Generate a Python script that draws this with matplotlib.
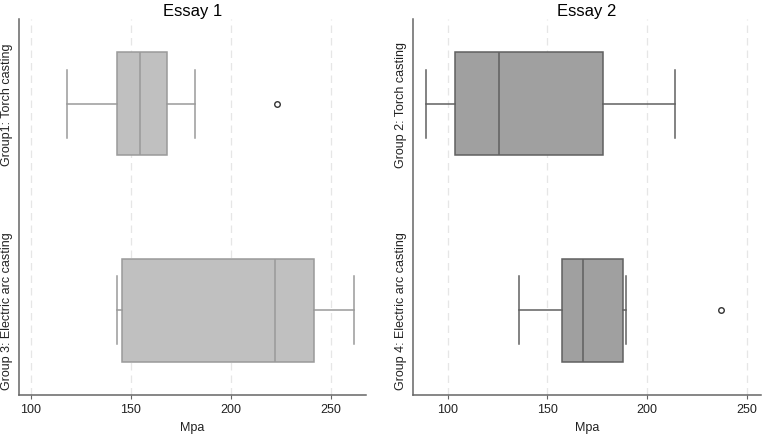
import matplotlib.pyplot as plt

plt.rcParams["font.family"] = ["Liberation Sans", "DejaVu Sans"]

# box statistics (Mpa)
essay1_labels = ["Group1: Torch casting", "Group 3: Electric arc casting"]
essay1_whislo = [118, 143]
essay1_q1 = [143, 145.5]
essay1_med = [154.5, 222]
essay1_q3 = [168, 241.5]
essay1_whishi = [182, 261.5]
essay1_fliers = [[223], []]

essay2_labels = ["Group 2: Torch casting", "Group 4: Electric arc casting"]
essay2_whislo = [89, 136]
essay2_q1 = [103.5, 157.5]
essay2_med = [125.5, 168]
essay2_q3 = [178, 188]
essay2_whishi = [214, 189.5]
essay2_fliers = [[], [237]]


def make_stats(labels, lo, q1, med, q3, hi, fl):
    out = []
    for i in range(len(labels)):
        out.append({"label": labels[i], "whislo": lo[i], "q1": q1[i], "med": med[i],
                    "q3": q3[i], "whishi": hi[i], "fliers": fl[i]})
    return out


fig = plt.figure(figsize=(7.62, 4.35), dpi=100)
ax1 = fig.add_axes([0.025, 0.09, 0.455, 0.864])
ax2 = fig.add_axes([0.5416, 0.09, 0.457, 0.864])

panels = [
    (ax1, "Essay 1", make_stats(essay1_labels, essay1_whislo, essay1_q1, essay1_med,
                                essay1_q3, essay1_whishi, essay1_fliers),
     "#c0c0c0", "#9a9a9a", (94, 267.5)),
    (ax2, "Essay 2", make_stats(essay2_labels, essay2_whislo, essay2_q1, essay2_med,
                                essay2_q3, essay2_whishi, essay2_fliers),
     "#a0a0a0", "#606060", (82.5, 257)),
]

for ax, title, stats, face, edge, xl in panels:
    ax.bxp(stats, positions=[0, 1], widths=0.5, vert=False, patch_artist=True,
           capwidths=0.33,
           boxprops=dict(facecolor=face, edgecolor=edge, linewidth=1.1),
           medianprops=dict(color=edge, linewidth=1.1),
           whiskerprops=dict(color=edge, linewidth=1.1),
           capprops=dict(color=edge, linewidth=1.1),
           flierprops=dict(marker="o", markersize=4, markerfacecolor="white",
                           markeredgecolor="#333333", markeredgewidth=1))
    ax.set_ylim(1.41, -0.41)
    ax.set_xlim(*xl)
    ax.set_xticks([100, 150, 200, 250])
    ax.set_yticks([0, 1])
    ax.set_yticklabels([s["label"] for s in stats], rotation=90, va="center",
                       fontsize=9, color="#222222")
    ax.tick_params(axis="y", length=0, pad=4)
    ax.tick_params(axis="x", length=3, color="#666666", labelsize=9,
                   labelcolor="#222222", pad=3)
    ax.set_xlabel("Mpa", fontsize=9, color="#222222", labelpad=4)
    ax.set_title(title, fontsize=12, pad=3)
    ax.grid(axis="x", linestyle=(0, (6, 4)), color="#e6e6e6", linewidth=0.9)
    ax.set_axisbelow(True)
    for s in ["top", "right"]:
        ax.spines[s].set_visible(False)
    for s in ["left", "bottom"]:
        ax.spines[s].set_color("#666666")
        ax.spines[s].set_linewidth(1.1)

fig.savefig("out.png", dpi=100)
